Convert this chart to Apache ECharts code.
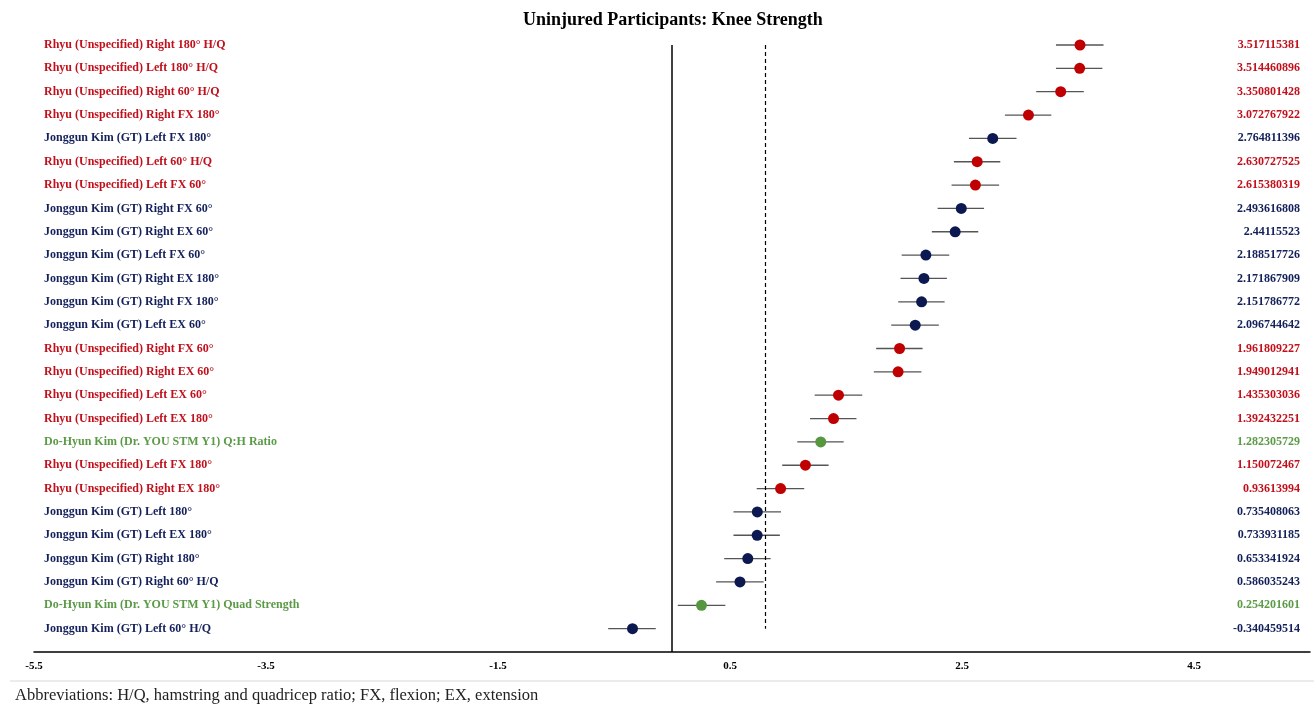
<!DOCTYPE html>
<html>
<head>
<meta charset="utf-8">
<script src="https://cdn.jsdelivr.net/npm/echarts@6/dist/echarts.min.js"></script>
<style>
  html, body { margin: 0; padding: 0; background: #fff; }
  #chart { width: 1314px; height: 705px; }
</style>
</head>
<body>
<div id="chart"></div>
<script>
// rows top to bottom
const studies = [
  'Rhyu (Unspecified) Right 180° H/Q',
  'Rhyu (Unspecified) Left 180° H/Q',
  'Rhyu (Unspecified) Right 60° H/Q',
  'Rhyu (Unspecified) Right FX 180°',
  'Jonggun Kim (GT) Left FX 180°',
  'Rhyu (Unspecified) Left 60° H/Q',
  'Rhyu (Unspecified) Left FX 60°',
  'Jonggun Kim (GT) Right FX 60°',
  'Jonggun Kim (GT) Right EX 60°',
  'Jonggun Kim (GT) Left FX 60°',
  'Jonggun Kim (GT) Right EX 180°',
  'Jonggun Kim (GT) Right FX 180°',
  'Jonggun Kim (GT) Left EX 60°',
  'Rhyu (Unspecified) Right FX 60°',
  'Rhyu (Unspecified) Right EX 60°',
  'Rhyu (Unspecified) Left EX 60°',
  'Rhyu (Unspecified) Left EX 180°',
  'Do-Hyun Kim (Dr. YOU STM Y1) Q:H Ratio',
  'Rhyu (Unspecified) Left FX 180°',
  'Rhyu (Unspecified) Right EX 180°',
  'Jonggun Kim (GT) Left 180°',
  'Jonggun Kim (GT) Left EX 180°',
  'Jonggun Kim (GT) Right 180°',
  'Jonggun Kim (GT) Right 60° H/Q',
  'Do-Hyun Kim (Dr. YOU STM Y1) Quad Strength',
  'Jonggun Kim (GT) Left 60° H/Q'
]
const groups = ['R', 'R', 'R', 'R', 'J', 'R', 'R', 'J', 'J', 'J', 'J', 'J', 'J',
  'R', 'R', 'R', 'R', 'D', 'R', 'R', 'J', 'J', 'J', 'J', 'D', 'J']
const effects = [3.517115381, 3.514460896, 3.350801428, 3.072767922, 2.764811396,
  2.630727525, 2.615380319, 2.493616808, 2.44115523, 2.188517726, 2.171867909,
  2.151786772, 2.096744642, 1.961809227, 1.949012941, 1.435303036, 1.392432251,
  1.282305729, 1.150072467, 0.93613994, 0.735408063, 0.733931185, 0.653341924,
  0.586035243, 0.254201601, -0.340459514]
const lower = [3.31, 3.31, 3.14, 2.87, 2.56, 2.43, 2.41, 2.29, 2.24, 1.98, 1.97,
  1.95, 1.89, 1.76, 1.74, 1.23, 1.19, 1.08, 0.95, 0.73, 0.53, 0.53, 0.45, 0.38,
  0.05, -0.55]
const upper = [3.72, 3.71, 3.55, 3.27, 2.97, 2.83, 2.82, 2.69, 2.64, 2.39, 2.37,
  2.35, 2.30, 2.16, 2.15, 1.64, 1.59, 1.48, 1.35, 1.14, 0.94, 0.93, 0.85, 0.79,
  0.46, -0.14]
const refLine = 0.8
const xTicks = { min: -5.5, max: 5.5, step: 2 }

const dotColors = { R: '#c00000', J: '#0c1850', D: '#56973f' }
const textColors = { R: '#c0101c', J: '#14205a', D: '#5b9a46' }

const chart = echarts.init(document.getElementById('chart'))

// blank row at the end leaves the gap above the x axis
const leftCats = studies.map((s, i) => ({ value: s, textStyle: { color: textColors[groups[i]] } })).concat([''])
const rightCats = effects.map((v, i) => ({ value: String(v), textStyle: { color: textColors[groups[i]] } })).concat([' '])

const labelFont = { fontFamily: 'Liberation Serif', fontWeight: 'bold', fontSize: 12 }

chart.setOption({
  animation: false,
  title: [{
    text: 'Uninjured Participants: Knee Strength',
    left: 518,
    top: 6,
    textStyle: { fontFamily: 'Liberation Serif', fontWeight: 'bold', fontSize: 18, color: '#000' }
  }, {
    text: 'Abbreviations: H/Q, hamstring and quadricep ratio; FX, flexion; EX, extension',
    left: 10,
    top: 682,
    textStyle: { fontFamily: 'Liberation Serif', fontWeight: 'normal', fontSize: 16.5, color: '#222' }
  }],
  graphic: [{
    type: 'line',
    shape: { x1: 10, y1: 681, x2: 1314, y2: 681 },
    style: { stroke: '#d8d8d8', lineWidth: 1 }
  }],
  grid: { left: 34, right: 4, top: 45, bottom: 53 },
  xAxis: {
    type: 'value',
    min: xTicks.min,
    max: xTicks.max,
    interval: xTicks.step,
    axisLine: { show: true, onZero: false, lineStyle: { color: '#000', width: 1.5 } },
    axisTick: { show: false },
    splitLine: { show: false },
    axisLabel: { fontFamily: 'Liberation Serif', fontWeight: 'bold', fontSize: 11, color: '#000', margin: 9, showMaxLabel: false }
  },
  yAxis: [{
    type: 'category',
    inverse: true,
    boundaryGap: false,
    data: leftCats,
    position: 'left',
    axisLine: { show: false },
    axisTick: { show: false },
    splitLine: { show: false },
    axisLabel: { ...labelFont, inside: true, margin: 10, interval: 0 }
  }, {
    type: 'category',
    inverse: true,
    boundaryGap: false,
    data: rightCats,
    position: 'right',
    axisLine: { show: false },
    axisTick: { show: false },
    splitLine: { show: false },
    axisLabel: { ...labelFont, inside: true, margin: 10, interval: 0 }
  }],
  series: [{
    type: 'custom',
    yAxisIndex: 0,
    data: studies.map((s, i) => [lower[i], upper[i], i]),
    encode: { x: [0, 1], y: 2 },
    renderItem: (params, api) => {
      const a = api.coord([api.value(0), api.value(2)])
      const b = api.coord([api.value(1), api.value(2)])
      return {
        type: 'line',
        shape: { x1: a[0], y1: a[1], x2: b[0], y2: b[1] },
        style: { stroke: '#555', lineWidth: 1.3 }
      }
    },
    z: 2
  }, {
    type: 'scatter',
    yAxisIndex: 0,
    symbolSize: 11,
    data: effects.map((v, i) => ({ value: [v, studies[i]], itemStyle: { color: dotColors[groups[i]], opacity: 1 } })),
    z: 3,
    markLine: {
      silent: true,
      symbol: 'none',
      label: { show: false },
      data: [
        [{ coord: [0, 0], lineStyle: { type: 'solid', color: '#000', width: 1.5 } },
         { coord: [0, studies.length] }],
        [{ coord: [refLine, 0], lineStyle: { type: [4, 3], color: '#000', width: 1.2 } },
         { coord: [refLine, studies.length - 1] }]
      ]
    }
  }]
})
</script>
</body>
</html>
